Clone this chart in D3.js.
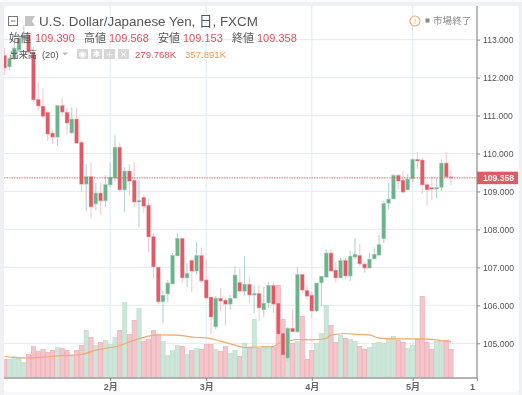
<!DOCTYPE html>
<html>
<head>
<meta charset="utf-8">
<script src="https://cdn.jsdelivr.net/npm/d3@7"></script>
<style>
body { margin: 0; background: #eef0f4; }
svg { filter: blur(0.3px); }
text { font-family: "Liberation Sans", "Noto Sans CJK JP", sans-serif; }
</style>
</head>
<body>
<script>
var w = 522;
var h = 395;

// USD/JPY daily candles
var opens = [112.59,112.28,112.51,112.72,113.04,113.12,112.67,111.43,111.25,111.09,110.54,110.43,111.27,111.09,110.54,110.91,110.30,109.19,109.40,108.67,108.96,108.75,109.17,109.35,110.17,109.04,109.54,109.30,108.72,108.85,108.64,107.82,107.01,106.09,106.30,106.56,107.30,107.77,106.72,107.19,106.90,107.32,106.67,106.22,105.43,106.19,106.14,106.03,106.19,106.61,106.37,106.56,106.27,106.32,105.88,106.06,106.53,106.06,105.27,104.61,105.40,105.30,106.82,106.40,106.27,105.85,106.59,106.74,107.38,106.93,106.72,107.19,106.77,107.27,107.32,107.09,106.98,107.22,107.32,107.75,108.69,108.80,109.43,109.30,109.04,109.33,109.85,109.83,109.19,109.11,109.06,109.11,109.75,109.390];
var highs = [112.78,112.54,112.91,113.12,113.38,113.19,112.80,111.88,111.72,111.14,110.62,111.27,111.46,111.20,111.22,111.20,110.35,109.72,109.77,109.22,109.22,109.43,109.75,110.48,110.27,109.64,109.72,109.77,109.30,108.90,108.80,107.90,107.01,106.39,106.67,107.38,107.90,107.77,107.11,107.19,107.67,107.53,107.22,106.22,106.24,106.46,106.22,106.27,107.03,106.98,107.30,106.74,106.53,106.53,106.48,106.61,106.61,106.10,105.27,105.43,105.90,107.01,106.82,106.53,106.35,106.59,106.77,107.48,107.48,107.14,107.25,107.25,107.43,107.77,107.61,107.14,107.38,107.53,107.85,108.75,109.22,109.46,109.46,109.54,109.46,109.88,110.04,109.88,109.27,109.40,109.35,109.85,110.04,109.568];
var lows = [112.07,112.20,112.46,112.67,112.99,112.59,111.35,111.14,110.93,110.33,110.25,110.20,111.01,110.51,110.51,110.27,108.98,108.48,108.30,108.51,108.40,108.59,109.11,109.27,108.98,108.46,108.90,108.59,108.06,108.43,107.40,106.72,106.03,105.53,106.09,106.56,107.30,106.59,106.48,106.35,106.80,106.59,106.19,105.24,105.38,105.85,105.46,105.88,106.17,106.32,106.24,106.06,105.80,105.59,105.69,105.93,105.80,105.24,104.64,104.53,105.30,105.27,106.32,106.14,105.67,105.82,105.98,106.74,106.90,106.61,106.72,106.69,106.64,107.22,107.03,106.85,106.98,107.22,107.32,107.64,108.54,108.80,109.06,108.96,109.04,109.25,109.59,108.93,108.64,108.77,108.82,109.01,109.35,109.153];
var closes = [112.25,112.51,112.78,113.04,113.12,112.67,111.41,111.25,110.98,110.51,110.43,111.27,111.09,110.80,110.91,110.27,109.19,109.40,108.59,108.96,108.75,109.19,109.38,110.17,109.04,109.54,109.27,108.72,108.77,108.61,107.80,107.01,106.09,106.27,106.59,107.32,107.77,106.72,106.85,106.90,107.32,106.64,106.19,105.69,106.19,106.11,106.03,106.19,106.80,106.37,106.56,106.27,106.32,105.93,106.06,106.53,106.03,105.24,104.69,105.40,105.30,106.82,106.40,106.24,105.85,106.59,106.77,107.38,106.90,106.72,107.19,106.77,107.30,107.35,107.09,106.98,107.22,107.35,107.61,108.69,108.80,109.43,109.27,108.98,109.33,109.85,109.80,109.17,109.04,109.06,109.11,109.75,109.38,109.358];
var volumes = [180,180,210,197,150,230,310,260,280,250,270,300,290,270,220,270,320,470,400,320,350,370,330,400,470,750,430,570,690,360,380,470,430,360,220,270,320,310,230,270,290,280,330,330,280,260,310,240,270,210,340,300,580,290,310,310,300,920,580,280,340,360,610,180,270,340,440,720,520,350,420,390,380,360,310,280,300,340,350,340,380,410,370,350,290,320,380,810,350,280,360,360,370,279.768];
var maIndex = [0,3,6,8,11,16,19,22,23,27,30,32,36,40,42,45,48,50,53,56,57,59,61,64,67,68,71,74,76,78,82,87,93];
var maValues = [210,197,197,203,217,230,273,300,307,373,413,427,423,400,397,363,323,300,305,310,340,363,380,377,390,423,440,430,427,393,387,387,357.891];

var monthTicks = [22, 42, 64, 85, 98.4];
var monthLabels = ["2月", "3月", "4月", "5月", "1"];
var priceTicks = [105, 106, 107, 108, 109, 110, 111, 112, 113];

var legendOhlc = [
    {label: "始値", value: "109.390", lx: 9, vx: 35},
    {label: "高値", value: "109.568", lx: 84, vx: 109},
    {label: "安値", value: "109.153", lx: 158, vx: 183},
    {label: "終値", value: "109.358", lx: 232, vx: 257}
];

var RED = "#e05a66", GREEN = "#6ab48c";

var x = d3.scaleLinear().domain([0, 93]).range([4.6, 451]);
var y = d3.scaleLinear().domain([105, 110]).range([343.3, 153.5]);
var yVol = d3.scaleLinear().domain([0, 1000]).range([377.5, 277.5]);

var svg = d3.select("body").append("svg")
    .attr("width", w)
    .attr("height", h)
    .style("display", "block");

svg.append("rect").attr("x", 0).attr("y", 0).attr("width", w).attr("height", 2).attr("fill", "#fbfbfc");
svg.append("rect").attr("x", 4).attr("y", 392).attr("width", 515).attr("height", 3).attr("fill", "#f8f8fa");
svg.append("rect").attr("x", 4).attr("y", 6).attr("width", 515).attr("height", 386)
    .attr("rx", 3).attr("fill", "#fff");

svg.append("defs").append("clipPath").attr("id", "plot")
    .append("rect").attr("x", 4).attr("y", 6).attr("width", 473).attr("height", 371.5);

var plot = svg.append("g").attr("clip-path", "url(#plot)");

// grid
plot.selectAll(".hgrid").data(priceTicks).enter().append("line")
    .attr("x1", 4).attr("x2", 477)
    .attr("y1", function(d) { return y(d); })
    .attr("y2", function(d) { return y(d); })
    .attr("stroke", "#e9edf1").attr("stroke-width", 1.2);
plot.selectAll(".vgrid").data(monthTicks.slice(0, 4)).enter().append("line")
    .attr("y1", 6).attr("y2", 378)
    .attr("x1", function(d) { return x(d); })
    .attr("x2", function(d) { return x(d); })
    .attr("stroke", "#e6eef3").attr("stroke-width", 1.2);

var idx = d3.range(opens.length);
function isUp(i) { return closes[i] >= opens[i]; }

// volume
plot.selectAll(".vol").data(idx).enter().append("rect")
    .attr("x", function(i) { return x(i) - 2.1; })
    .attr("width", 4.2)
    .attr("y", function(i) { return yVol(volumes[i]); })
    .attr("height", function(i) { return yVol(0) - yVol(volumes[i]); })
    .attr("fill", function(i) { return isUp(i) ? "#cde6d9" : "#f4c6cb"; })
    .attr("stroke", function(i) { return isUp(i) ? "#b9dcca" : "#eba6ae"; })
    .attr("stroke-width", 0.6);

// volume average
var maLine = d3.line()
    .x(function(d) { return x(d[0]); })
    .y(function(d) { return yVol(d[1]); })
    .curve(d3.curveMonotoneX);
plot.append("path")
    .attr("d", maLine(d3.zip(maIndex, maValues)))
    .attr("fill", "none")
    .attr("stroke", "#f5a868")
    .attr("stroke-width", 1.2);

// candles
plot.selectAll(".wick").data(idx).enter().append("line")
    .attr("x1", function(i) { return x(i); })
    .attr("x2", function(i) { return x(i); })
    .attr("y1", function(i) { return y(highs[i]); })
    .attr("y2", function(i) { return y(lows[i]); })
    .attr("stroke", function(i) { return isUp(i) ? "#b4d2d6" : "#f5c8ce"; })
    .attr("stroke-width", 1.1);
plot.selectAll(".body").data(idx).enter().append("rect")
    .attr("x", function(i) { return x(i) - 2; })
    .attr("width", 4)
    .attr("y", function(i) { return y(Math.max(opens[i], closes[i])); })
    .attr("height", function(i) { return Math.max(1, Math.abs(y(opens[i]) - y(closes[i]))); })
    .attr("fill", function(i) { return isUp(i) ? GREEN : RED; })
    .attr("stroke", function(i) { return isUp(i) ? "#c4e0d2" : "#f3c3c8"; })
    .attr("stroke-width", 0.5);

// last price line
var last = closes[closes.length - 1];
plot.append("line")
    .attr("x1", 4).attr("x2", 477)
    .attr("y1", y(last)).attr("y2", y(last))
    .attr("stroke", RED).attr("stroke-width", 0.9)
    .attr("stroke-dasharray", "1.5 1");

// axes
var yAxis = svg.append("g")
    .attr("transform", "translate(477,0)")
    .call(d3.axisRight(y).tickValues(priceTicks).tickSize(3).tickPadding(3)
        .tickFormat(d3.format(".3f")));
yAxis.select(".domain").attr("d", "M0,6V378").attr("stroke", "#8c8c8c").attr("stroke-width", 1.2);
yAxis.selectAll(".tick line").attr("stroke", "#8c8c8c");
yAxis.selectAll("text").attr("fill", "#555").style("font-size", "8.6px")
    .style("font-family", "'Liberation Sans'");

var xAxis = svg.append("g")
    .attr("transform", "translate(0,378)")
    .call(d3.axisBottom(x).tickValues(monthTicks).tickSize(3).tickPadding(3)
        .tickFormat(function(d, i) { return monthLabels[i]; }));
xAxis.select(".domain").attr("d", "M4,0H477").attr("stroke", "#9a9a9a").attr("stroke-width", 1.4);
xAxis.selectAll(".tick line").attr("stroke", "#8c8c8c");
xAxis.selectAll("text").attr("fill", "#666").style("font-size", "9px").style("font-weight", "bold");
xAxis.selectAll(".tick").filter(function(d) { return d > 93; }).select("text").attr("dx", -5);

// last price tag
svg.append("rect").attr("x", 477).attr("y", y(last) - 6.2).attr("width", 41).attr("height", 12.5)
    .attr("fill", RED);
svg.append("text").attr("x", 483).attr("y", y(last) + 3)
    .attr("fill", "#fff").style("font-size", "8.6px").style("font-weight", "bold")
    .text(d3.format(".3f")(last));

// legend
svg.append("rect").attr("x", 8.5).attr("y", 16.5).attr("width", 9).attr("height", 9)
    .attr("fill", "#fff").attr("stroke", "#777");
svg.append("line").attr("x1", 10.5).attr("x2", 15.5).attr("y1", 21).attr("y2", 21).attr("stroke", "#777");
svg.append("path").attr("d", "M25,16H35L32,21L35,26H25Z").attr("fill", "#c4c4c4");
svg.append("text").attr("x", 39).attr("y", 26)
    .attr("fill", "#555").style("font-size", "13.4px")
    .text("U.S. Dollar/Japanese Yen, 日, FXCM");

legendOhlc.forEach(function(d) {
    svg.append("text").attr("x", d.lx).attr("y", 42).attr("fill", "#555")
        .style("font-size", "11px").text(d.label);
    svg.append("text").attr("x", d.vx).attr("y", 42).attr("fill", "#d9505e")
        .style("font-size", "11px").text(d.value);
});

svg.append("text").attr("x", 9.5).attr("y", 58).attr("fill", "#555")
    .style("font-size", "9.2px").text("出来高");
svg.append("text").attr("x", 42).attr("y", 58).attr("fill", "#555")
    .style("font-size", "9.4px").text("(20)");
svg.append("path").attr("d", "M62,52.5H68L65,55.5Z").attr("fill", "#bbb");

var iconX = [77, 91, 104, 118];
var iconMark = ["◉", "✱", "+", "×"];
iconX.forEach(function(ix, i) {
    svg.append("rect").attr("x", ix).attr("y", 49).attr("width", 11).attr("height", 10).attr("fill", "#d6d6d6");
    svg.append("text").attr("x", ix + 5.5).attr("y", 57).attr("text-anchor", "middle")
        .attr("fill", "#fff").style("font-size", "9px").style("font-family", "'DejaVu Sans'").text(iconMark[i]);
});

svg.append("text").attr("x", 135).attr("y", 58).attr("fill", "#d9505e")
    .style("font-size", "9.6px").text("279.768K");
svg.append("text").attr("x", 185).attr("y", 58).attr("fill", "#f39a50")
    .style("font-size", "9.6px").text("357.891K");

// market closed note
svg.append("circle").attr("cx", 415).attr("cy", 21).attr("r", 5)
    .attr("fill", "#fff").attr("stroke", "#f4a666").attr("stroke-width", 1.1);
svg.append("text").attr("x", 415).attr("y", 24).attr("text-anchor", "middle")
    .attr("fill", "#f4a666").style("font-size", "8px").text("!");
svg.append("rect").attr("x", 425.5).attr("y", 18.5).attr("width", 4).attr("height", 4).attr("fill", "#888");
svg.append("text").attr("x", 433).attr("y", 24).attr("fill", "#888")
    .style("font-size", "9.6px").text("市場終了");
</script>
</body>
</html>
